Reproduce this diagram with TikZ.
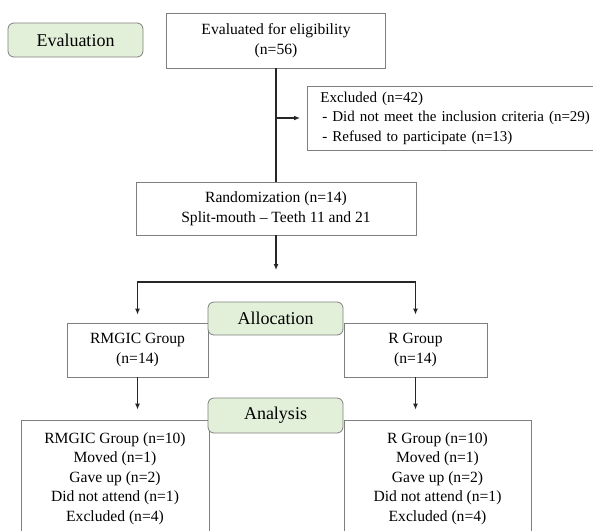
\documentclass[tikz,border=0pt]{standalone}
\usepackage{fontspec}
\setmainfont{Liberation Serif}
\usetikzlibrary{arrows.meta}
\definecolor{stagegreen}{HTML}{E2EFD9}
\definecolor{framegray}{HTML}{7F7F7F}
\begin{document}
\begin{tikzpicture}[x=1pt, y=-1pt,
    box/.style = {draw=framegray, line width=0.8pt, align=center, inner sep=0pt,
        font=\fontsize{15.6}{19.5}\selectfont},
    stage/.style = {draw=framegray, line width=0.8pt, fill=stagegreen,
        rounded corners=6pt, inner sep=0pt, font=\fontsize{18}{21}\selectfont},
    conn/.style = {line width=1.5pt, draw=black!85},
    arr/.style = {conn, -{Latex[length=6pt,width=5pt]}}]
  \clip (0,0) rectangle (593,530);
  \node (eval) [stage, minimum width=135pt, minimum height=34pt] at (75.5,40) {Evaluation};
  \node (elig) [box, minimum width=219pt, minimum height=55pt] at (276,40.5)
    {Evaluated for eligibility\\(n=56)};
  \node (excl) [box, align=left, anchor=west, text width=300pt, inner xsep=13pt,
    minimum height=64pt, font=\fontsize{15}{19.5}\selectfont] at (307,118)
    {Excluded (n=42)\\\hspace*{2pt}- Did not meet the inclusion criteria (n=29)\\
     \hspace*{2pt}- Refused to participate (n=13)};
  \node (rand) [box, minimum width=280pt, minimum height=53pt] at (276,208.5)
    {Randomization (n=14)\\Split-mouth -- Teeth 11 and 21};
  \node (rmgic) [box, minimum width=141pt, minimum height=54pt] at (137.5,350)
    {RMGIC Group\\(n=14)};
  \node (rgrp) [box, minimum width=143pt, minimum height=54pt] at (415.5,350)
    {R Group\\(n=14)};
  \node (alloc) [stage, minimum width=135pt, minimum height=33pt] at (275.5,318.5) {Allocation};
  \node (lowl) [box, minimum width=188pt, minimum height=117pt] at (115,478.5)
    {RMGIC Group (n=10)\\Moved (n=1)\\Gave up (n=2)\\Did not attend (n=1)\\Excluded (n=4)};
  \node (lowr) [box, minimum width=187pt, minimum height=117pt] at (437.5,478.5)
    {R Group (n=10)\\Moved (n=1)\\Gave up (n=2)\\Did not attend (n=1)\\Excluded (n=4)};
  \node (anal) [stage, minimum width=135pt, minimum height=35pt] at (275.5,415.5) {Analysis};
  \coordinate (split) at (276,282);
  \draw[conn] (elig) -- (rand);
  \draw[arr, shorten >=7pt] (elig.south |- excl.west) -- (excl.west);
  \draw[arr, shorten >=12pt] (rand) -- (split);
  \draw[arr, shorten >=8pt] (split) -| (rmgic);
  \draw[arr, shorten >=8pt] (split) -| (rgrp);
  \draw[arr, shorten >=10pt] (rmgic.south) -- (rmgic.south |- lowl.north);
  \draw[arr, shorten >=10pt] (rgrp.south) -- (rgrp.south |- lowr.north);
\end{tikzpicture}
\end{document}
